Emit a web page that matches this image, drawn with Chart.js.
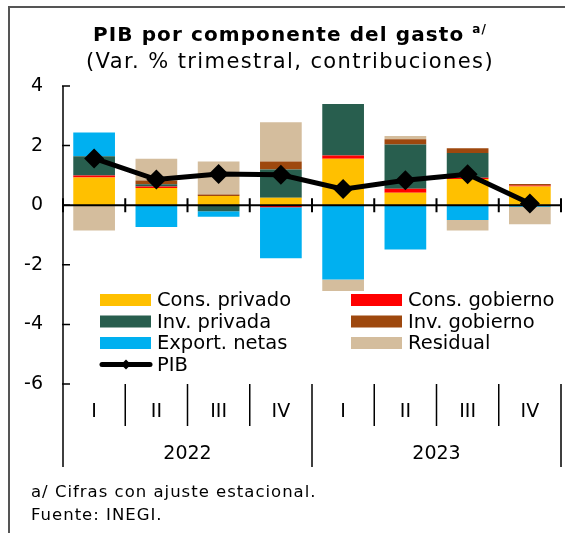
<!DOCTYPE html>
<html>
<head>
<meta charset="utf-8">
<script src="https://cdn.jsdelivr.net/npm/chart.js@4/dist/chart.umd.min.js"></script>
<style>
  body { margin: 0; background: #fff; }
  #wrap { position: relative; width: 571px; height: 533px; font-family: "DejaVu Sans", sans-serif; color: #000; overflow: hidden; }
  #frame { position: absolute; left: 8px; top: 6px; width: 555px; height: 540px; border-top: 2px solid #555; border-left: 2px solid #555; }
  #chart { position: absolute; left: 0; top: 0; }
  .title { position: absolute; left: 0; width: 580px; text-align: center; white-space: nowrap; }
  #t1 { top: 22px; font-weight: bold; font-size: 20px; letter-spacing: 1.1px; }
  #t1 sup { font-size: 12px; font-weight: bold; vertical-align: 8px; }
  #t2 { top: 49px; font-size: 21px; letter-spacing: 1.4px; }
  #note { position: absolute; left: 31px; top: 480px; font-size: 16.5px; line-height: 23px; letter-spacing: 1px; }
</style>
</head>
<body>
<div id="wrap">
  <div id="frame"></div>
  <canvas id="chart" width="571" height="533"></canvas>
  <div class="title" id="t1">PIB por componente del gasto <sup>a/</sup></div>
  <div class="title" id="t2">(Var. % trimestral, contribuciones)</div>
  <div id="note">a/ Cifras con ajuste estacional.<br>Fuente: INEGI.</div>
</div>
<script>
// Quarters and years on the category axis
let quarters = ['I', 'II', 'III', 'IV', 'I', 'II', 'III', 'IV']
let years = ['2022', '2023']

// Contributions to quarterly growth (percentage points)
let consPrivado = [0.93, 0.58, 0.31, 0.25, 1.56, 0.42, 0.88, 0.63]
let consGobierno = [0.07, 0.05, 0, -0.07, 0.11, 0.13, 0.04, 0.03]
let invPrivada = [0.64, 0.07, -0.20, 0.95, 1.73, 1.49, 0.83, 0]
let invGobierno = [0, 0.13, 0.05, 0.27, 0, 0.17, 0.16, 0.05]
let exportNetas = [0.80, -0.73, -0.19, -1.71, -2.49, -1.49, -0.50, -0.05]
let residual = [-0.85, 0.73, 1.11, 1.31, -0.39, 0.11, -0.35, -0.59]
let pib = [1.57, 0.86, 1.05, 1.02, 0.54, 0.84, 1.04, 0.06]

let fontFamily = '"DejaVu Sans", sans-serif'

function barSet(label, data, color) {
    return {
        type: 'bar',
        label: label,
        data: data,
        backgroundColor: color,
        borderWidth: 0,
        stack: 'gasto',
        order: 1,
        barPercentage: 0.67,
        categoryPercentage: 1
    }
}

// Legend drawn inside the plot, two columns like the original
let legendPlugin = {
    id: 'insideLegend',
    afterDraw(chart) {
        let ctx = chart.ctx
        let sets = chart.data.datasets
        let cols = [100, 351]
        let rows = [300, 321.5, 343, 364.5]
        ctx.save()
        ctx.font = '19.5px ' + fontFamily
        ctx.textBaseline = 'middle'
        ctx.fillStyle = '#000'
        sets.forEach(function(ds, i) {
            let cx = cols[i % 2]
            let cy = rows[Math.floor(i / 2)]
            if (ds.type === 'line') {
                ctx.strokeStyle = '#000'
                ctx.lineWidth = 5
                ctx.lineCap = 'round'
                ctx.beginPath()
                ctx.moveTo(cx + 2, cy)
                ctx.lineTo(cx + 50, cy)
                ctx.stroke()
                ctx.beginPath()
                ctx.moveTo(cx + 26, cy - 5)
                ctx.lineTo(cx + 31, cy)
                ctx.lineTo(cx + 26, cy + 5)
                ctx.lineTo(cx + 21, cy)
                ctx.closePath()
                ctx.fill()
            } else {
                ctx.fillStyle = ds.backgroundColor
                ctx.fillRect(cx, cy - 6, 51, 12)
            }
            ctx.fillStyle = '#000'
            ctx.fillText(ds.label, cx + 57, cy + 1)
        })
        ctx.restore()
    }
}

// Axis line, zero line, quarter/year separators and year labels
let axisPlugin = {
    id: 'axisExtras',
    afterDatasetsDraw(chart) {
        let ctx = chart.ctx
        let area = chart.chartArea
        let yScale = chart.scales.y
        let zeroY = yScale.getPixelForValue(0)
        let n = quarters.length
        let step = (area.right - area.left) / n
        ctx.save()
        ctx.strokeStyle = '#000'
        ctx.lineWidth = 2
        ctx.beginPath()
        ctx.moveTo(area.left, zeroY)
        ctx.lineTo(area.right, zeroY)
        for (let i = 0; i <= n; i++) {
            let bx = area.left + i * step
            ctx.moveTo(bx, zeroY - 7)
            ctx.lineTo(bx, zeroY + 7)
        }
        ctx.stroke()
        ctx.restore()
    },
    afterDraw(chart) {
        let ctx = chart.ctx
        let area = chart.chartArea
        let yScale = chart.scales.y
        let n = quarters.length
        let step = (area.right - area.left) / n
        let bottom = 467
        ctx.save()
        ctx.strokeStyle = '#000'
        ctx.lineWidth = 1.5
        ctx.beginPath()
        ctx.moveTo(area.left, area.top)
        ctx.lineTo(area.left, bottom)
        yScale.ticks.forEach(function(t) {
            let py = yScale.getPixelForValue(t.value)
            ctx.moveTo(area.left - 1, py)
            ctx.lineTo(area.left + 7, py)
        })
        for (let i = 1; i <= n; i++) {
            let bx = area.left + i * step
            ctx.moveTo(bx, area.bottom)
            ctx.lineTo(bx, i % 4 === 0 ? bottom : 426)
        }
        ctx.stroke()
        ctx.font = '19px ' + fontFamily
        ctx.fillStyle = '#000'
        ctx.textAlign = 'center'
        ctx.textBaseline = 'middle'
        years.forEach(function(yr, j) {
            let cx = area.left + (j * 4 + 2) * step
            ctx.fillText(yr, cx, 454)
        })
        ctx.restore()
    }
}

let ctx = document.getElementById('chart').getContext('2d')
let gastoChart = new Chart(ctx, {
    data: {
        labels: quarters,
        datasets: [
            barSet('Cons. privado', consPrivado, '#FFC000'),
            barSet('Cons. gobierno', consGobierno, '#FF0000'),
            barSet('Inv. privada', invPrivada, '#285E4E'),
            barSet('Inv. gobierno', invGobierno, '#9E480E'),
            barSet('Export. netas', exportNetas, '#00B0F0'),
            barSet('Residual', residual, '#D4BD9D'),
            {
                type: 'line',
                label: 'PIB',
                data: pib,
                borderColor: '#000',
                backgroundColor: '#000',
                borderWidth: 5,
                pointStyle: 'rectRot',
                pointRadius: 10,
                pointBorderWidth: 0,
                tension: 0,
                order: 0
            }
        ]
    },
    options: {
        responsive: false,
        animation: false,
        devicePixelRatio: 1,
        layout: { padding: { top: 86, right: 7, left: 0, bottom: 0 } },
        plugins: {
            legend: { display: false },
            tooltip: { enabled: false },
            title: { display: false }
        },
        scales: {
            x: {
                stacked: true,
                grid: { display: false },
                border: { display: false },
                ticks: { color: '#000', font: { family: fontFamily, size: 19 }, padding: 9 },
                afterFit: function(scale) { scale.height = 149 }
            },
            y: {
                stacked: true,
                min: -6,
                max: 4,
                grid: { display: false },
                border: { display: false },
                ticks: { stepSize: 2, color: '#000', font: { family: fontFamily, size: 19 }, padding: 12 },
                afterFit: function(scale) { scale.width = 63 }
            }
        }
    },
    plugins: [axisPlugin, legendPlugin]
})
</script>
</body>
</html>
